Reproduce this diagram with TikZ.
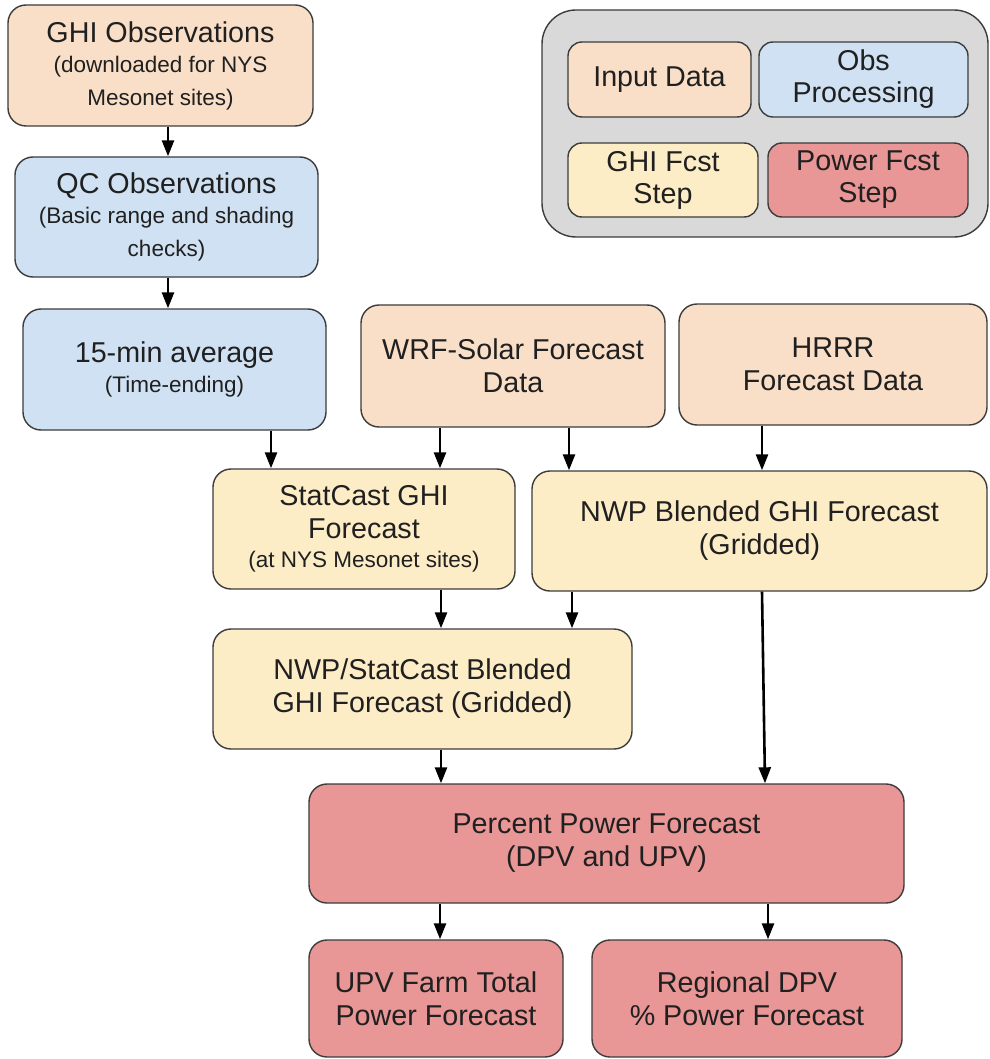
\documentclass[tikz,border=0pt]{standalone}
\usepackage{fontspec}
\setmainfont{Liberation Sans}
\usetikzlibrary{arrows.meta}
\definecolor{cinput}{HTML}{F9DFC8}
\definecolor{cobs}{HTML}{CFE1F2}
\definecolor{cghi}{HTML}{FDEDC7}
\definecolor{cpow}{HTML}{E99696}
\definecolor{clegend}{HTML}{D9D9D9}
\definecolor{cborder}{HTML}{3C3C3C}
\definecolor{ctext}{HTML}{202020}
\newcommand{\mainf}{\fontsize{28.7}{34}\selectfont}
\newcommand{\subf}{\fontsize{22.5}{27}\selectfont}
\tikzset{
  box/.style={draw=cborder, line width=1.4pt, rounded corners=18pt, inner sep=0pt,
    align=center, text=ctext, font=\mainf},
  sz/.style 2 args={minimum width=#1pt, minimum height=#2pt},
  inputbox/.style={box, fill=cinput},
  obsbox/.style={box, fill=cobs},
  ghibox/.style={box, fill=cghi},
  powbox/.style={box, fill=cpow},
  legbox/.style={draw=cborder, line width=1.4pt, rounded corners=34pt, fill=clegend},
  legitem/.style={box, rounded corners=14pt},
  arr/.style={draw=black, line width=2.6pt, -{Triangle[length=16pt,width=12pt]}}
}
\begin{document}
\begin{tikzpicture}[x=1pt,y=-1pt]
\useasboundingbox (0,0) rectangle (989,1059);
\fill[white] (0,0) rectangle (989,1059);

% legend
\node[legbox, sz={446}{227}] (legend) at (765,123.5) {};
\node[legitem, fill=cinput, sz={183}{75}] (linp) at (659.5,79.5) {Input Data};
\node[legitem, fill=cobs, sz={209}{75}] (lobs) at (863.5,79.5) {Obs\\[-2pt]Processing};
\node[legitem, fill=cghi, sz={190}{74}] (lghi) at (663,180) {GHI Fcst\\[-2pt]Step};
\node[legitem, fill=cpow, sz={200}{74}] (lpow) at (868,180) {Power Fcst\\[-2pt]Step};

% flow nodes
\node[inputbox, sz={305}{121}] (ghi) at (160.5,65.5)
  {GHI Observations\\[-4pt]{\subf (downloaded for NYS}\\[-1pt]{\subf Mesonet sites)}};
\node[obsbox, sz={303}{120}] (qc) at (166.5,217)
  {QC Observations\\[-4pt]{\subf (Basic range and shading}\\[-1pt]{\subf checks)}};
\node[obsbox, sz={303}{121}] (avg) at (174.5,369.5)
  {15-min average\\[-4pt]{\subf (Time-ending)}};
\node[inputbox, sz={304}{122}] (wrf) at (513,366)
  {WRF-Solar Forecast\\[-1pt]Data};
\node[inputbox, sz={308}{121}] (hrrr) at (833,364.5)
  {HRRR\\[-1pt]Forecast Data};
\node[ghibox, sz={302}{120}] (stat) at (364,529)
  {StatCast GHI\\[-1pt]Forecast\\[-5pt]{\subf (at NYS Mesonet sites)}};
\node[ghibox, sz={455}{120}] (nwpb) at (759.5,531)
  {NWP Blended GHI Forecast\\[-1pt](Gridded)};
\node[ghibox, sz={419}{120}] (blend) at (422.5,689)
  {NWP/StatCast Blended\\[-1pt]GHI Forecast (Gridded)};
\node[powbox, sz={595}{119}] (pct) at (606.5,843.5)
  {Percent Power Forecast\\[-1pt](DPV and UPV)};
\node[powbox, sz={254}{117}] (upv) at (436,998.5)
  {UPV Farm Total\\[-1pt]Power Forecast};
\node[powbox, sz={310}{117}] (reg) at (747,998.5)
  {Regional DPV\\[-1pt]\% Power Forecast};

% connectors
\draw[arr] (ghi.south -| 168,0) -- (qc.north -| 168,0);
\draw[arr] (qc.south -| 168,0) -- (avg.north -| 168,0);
\draw[arr] (avg.south -| 271,0) -- (stat.north -| 271,0);
\draw[arr] (wrf.south -| 440,0) -- (stat.north -| 440,0);
\draw[arr] (wrf.south -| 569,0) -- (nwpb.north -| 569,0);
\draw[arr] (hrrr.south -| 762,0) -- (nwpb.north -| 762,0);
\draw[arr] (stat.south -| 441,0) -- (blend.north -| 441,0);
\draw[arr] (nwpb.south -| 572,0) -- (blend.north -| 572,0);
\draw[arr] (nwpb.south -| 762,0) -- (pct.north -| 765,0);
\draw[arr] (blend.south -| 441,0) -- (pct.north -| 441,0);
\draw[arr] (pct.south -| 440,0) -- (upv.north -| 440,0);
\draw[arr] (pct.south -| 768,0) -- (reg.north -| 768,0);
\end{tikzpicture}
\end{document}
